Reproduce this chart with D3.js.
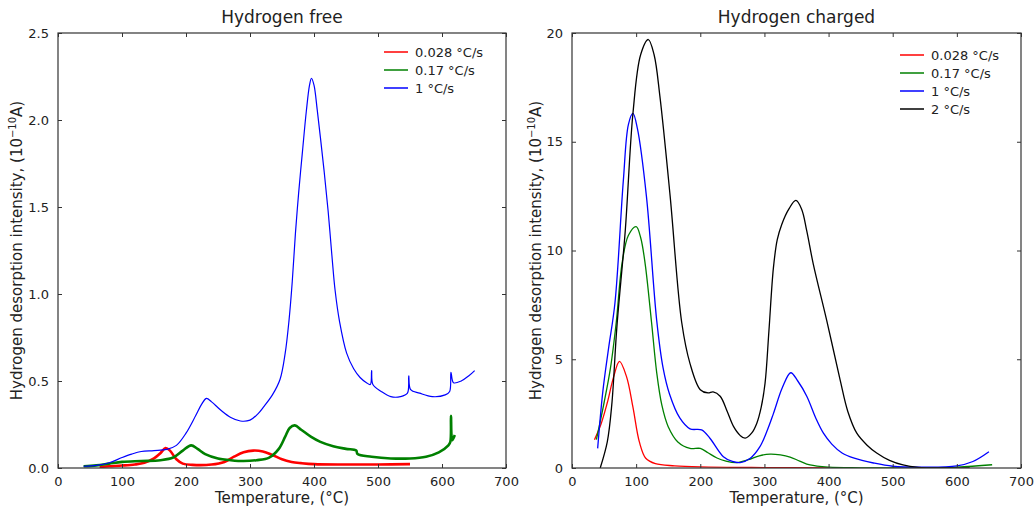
<!DOCTYPE html>
<html>
<head>
<meta charset="utf-8">
<script src="https://cdn.jsdelivr.net/npm/d3@7"></script>
<style>
  body { margin: 0; background: #fff; }
  svg text { font-family: "DejaVu Sans", sans-serif; fill: #222; }
</style>
</head>
<body>
<div id="chart"></div>
<script>
// rate labels (legend)
const rates = ["0.028 \u00b0C/s", "0.17 \u00b0C/s", "1 \u00b0C/s", "2 \u00b0C/s"];
const colors = ["#ff0000", "#008000", "#0000ff", "#000000"];

// Hydrogen free: [temperature, intensity]
const freeRed = [[65,0.006],[80,0.01],[100,0.014],[120,0.02],[135,0.03],[150,0.055],[160,0.085],[168,0.115],[175,0.1],[185,0.05],[195,0.025],[210,0.018],[240,0.02],[260,0.035],[275,0.065],[290,0.09],[305,0.1],[320,0.095],[335,0.075],[350,0.05],[365,0.035],[380,0.028],[400,0.022],[450,0.02],[500,0.02],[550,0.022]];
const freeGreen = [[40,0.01],[60,0.015],[80,0.025],[100,0.035],[130,0.04],[160,0.045],[180,0.06],[195,0.1],[208,0.13],[218,0.11],[230,0.08],[250,0.055],[270,0.045],[290,0.04],[310,0.045],[330,0.06],[345,0.11],[355,0.18],[362,0.23],[370,0.245],[380,0.22],[395,0.18],[410,0.15],[430,0.125],[450,0.11],[466,0.1],[468,0.08],[490,0.065],[520,0.055],[550,0.055],[575,0.065],[595,0.09],[610,0.13],[613,0.15],[614,0.3],[616,0.16],[620,0.19]];
const freeBlue = [[40,0.01],[60,0.015],[80,0.03],[100,0.06],[115,0.08],[130,0.095],[150,0.1],[170,0.107],[185,0.13],[200,0.2],[215,0.3],[225,0.37],[232,0.4],[240,0.38],[255,0.33],[270,0.29],[285,0.27],[300,0.275],[312,0.31],[321,0.35],[335,0.42],[347,0.51],[355,0.66],[361,0.85],[366,1.07],[371,1.35],[376,1.58],[382,1.82],[388,2.05],[393,2.2],[396,2.24],[400,2.2],[405,2.06],[410,1.9],[416,1.7],[422,1.48],[428,1.22],[433,1.02],[440,0.84],[451,0.66],[462,0.57],[472,0.52],[482,0.49],[488,0.48],[490,0.56],[492,0.48],[505,0.44],[520,0.41],[535,0.41],[546,0.43],[548,0.53],[551,0.45],[565,0.43],[585,0.41],[605,0.42],[612,0.44],[614,0.55],[618,0.49],[630,0.5],[642,0.53],[651,0.56]];

// Hydrogen charged: [temperature, intensity]
const chgRed = [[35,1.3],[45,2.0],[55,3.0],[65,4.2],[74,4.9],[85,4.2],[95,2.8],[105,1.2],[115,0.45],[130,0.2],[160,0.1],[200,0.05],[300,0.02],[400,0.01]];
const chgGreen = [[38,1.3],[50,3.0],[60,4.6],[69,6.7],[78,9.4],[88,10.7],[100,11.1],[107,10.6],[114,9.4],[124,6.7],[132,4.4],[140,2.9],[150,1.9],[165,1.2],[184,0.9],[200,0.9],[212,0.7],[226,0.46],[240,0.32],[257,0.25],[275,0.38],[292,0.56],[309,0.64],[325,0.6],[340,0.5],[355,0.32],[371,0.14],[400,0.04],[450,0.01],[500,0.0],[600,0.04],[655,0.15]];
const chgBlue = [[40,0.9],[48,3.5],[57,5.5],[67,7.6],[80,13.2],[88,15.8],[95,16.3],[102,15.6],[116,12.5],[132,6.8],[142,4.6],[152,3.4],[168,2.3],[184,1.8],[202,1.75],[215,1.37],[236,0.52],[250,0.3],[262,0.25],[278,0.45],[293,0.98],[304,1.7],[314,2.5],[328,3.7],[341,4.38],[352,4.0],[366,3.3],[380,2.3],[392,1.6],[405,1.1],[421,0.69],[440,0.45],[470,0.23],[500,0.08],[550,0.04],[600,0.1],[625,0.3],[650,0.75]];
const chgBlack = [[44,0.0],[55,1.2],[62,2.9],[70,6.5],[83,10.9],[95,16.3],[107,19.0],[119,19.7],[128,19.0],[137,17.1],[153,12.5],[171,6.7],[184,4.8],[200,3.6],[212,3.45],[220,3.5],[231,3.3],[242,2.6],[252,1.9],[262,1.5],[270,1.37],[280,1.6],[288,2.05],[295,2.8],[301,3.9],[307,6.3],[314,9.2],[320,10.5],[327,11.2],[338,11.9],[349,12.3],[358,11.9],[366,10.9],[376,9.4],[397,6.8],[418,4.05],[430,2.6],[444,1.6],[460,1.05],[475,0.69],[495,0.35],[516,0.14],[540,0.03],[580,0.0],[620,0.0]];

const xTicks = [0, 100, 200, 300, 400, 500, 600, 700];
const freeYTicks = [0, 0.5, 1.0, 1.5, 2.0, 2.5];
const chgYTicks = [0, 5, 10, 15, 20];

const W = 1036, H = 510;
const svg = d3.select("#chart").append("svg")
    .attr("width", W)
    .attr("height", H);

function drawPanel(opts) {
    const left = opts.left, right = opts.right, top = 33, bottom = 468;
    const x = d3.scaleLinear().domain([0, 700]).range([left, right]);
    const y = d3.scaleLinear().domain([0, opts.ymax]).range([bottom, top]);
    const g = svg.append("g");

    // clip so curves stay in the frame
    const clipId = "clip-" + opts.id;
    g.append("clipPath").attr("id", clipId)
        .append("rect")
        .attr("x", left).attr("y", top)
        .attr("width", right - left).attr("height", bottom - top);

    const line = d3.line()
        .x(d => x(d[0]))
        .y(d => y(Math.max(0, d[1])))
        .curve(d3.curveCatmullRom.alpha(0.5));

    const curves = g.append("g").attr("clip-path", `url(#${clipId})`);
    opts.series.forEach(s => {
        curves.append("path")
            .datum(s.data)
            .attr("fill", "none")
            .attr("stroke", s.color)
            .attr("stroke-width", s.width)
            .attr("stroke-linejoin", "round")
            .attr("d", line);
    });

    // frame
    g.append("rect")
        .attr("x", left).attr("y", top)
        .attr("width", right - left).attr("height", bottom - top)
        .attr("fill", "none")
        .attr("stroke", "#333")
        .attr("stroke-width", 1.2);

    // inward ticks: bottom/top and left/right
    const bAxis = d3.axisBottom(x).tickValues(xTicks).tickSize(-4).tickPadding(9)
        .tickFormat(d3.format("d"));
    const tAxis = d3.axisTop(x).tickValues(xTicks).tickSize(-4).tickFormat("");
    const lAxis = d3.axisLeft(y).tickValues(opts.yTicks).tickSize(-4).tickPadding(9)
        .tickFormat(opts.yFormat);
    const rAxis = d3.axisRight(y).tickValues(opts.yTicks).tickSize(-4).tickFormat("");

    [[bAxis, `translate(0,${bottom})`], [tAxis, `translate(0,${top})`],
     [lAxis, `translate(${left},0)`], [rAxis, `translate(${right},0)`]].forEach(([ax, tr]) => {
        const a = g.append("g").attr("transform", tr).call(ax);
        a.select(".domain").remove();
        a.selectAll(".tick line").attr("stroke", "#333");
        a.selectAll("text")
            .style("font-family", "DejaVu Sans, sans-serif")
            .style("font-size", "13px")
            .attr("fill", "#222");
    });

    // title
    g.append("text")
        .attr("x", (left + right) / 2).attr("y", 23)
        .attr("text-anchor", "middle")
        .style("font-size", "17px")
        .text(opts.title);

    // x label
    g.append("text")
        .attr("x", (left + right) / 2).attr("y", 503)
        .attr("text-anchor", "middle")
        .style("font-size", "15px")
        .text("Temperature, (\u00b0C)");

    // y label
    const yl = g.append("text")
        .attr("transform", `translate(${opts.ylabelX},${(top + bottom) / 2}) rotate(-90)`)
        .attr("text-anchor", "middle")
        .style("font-size", "15px");
    yl.append("tspan").text("Hydrogen desorption intensity, (10");
    yl.append("tspan").attr("dy", -6).style("font-size", "10px").text("\u221210");
    yl.append("tspan").attr("dy", 6).text("A)");

    // legend
    const lg = g.append("g");
    opts.series.forEach((s, i) => {
        const ly = opts.legendY + i * 18;
        lg.append("line")
            .attr("x1", opts.legendX).attr("x2", opts.legendX + 24)
            .attr("y1", ly).attr("y2", ly)
            .attr("stroke", s.color).attr("stroke-width", 1.5);
        lg.append("text")
            .attr("x", opts.legendX + 31).attr("y", ly + 5)
            .style("font-size", "13px")
            .text(rates[i]);
    });
}

drawPanel({
    id: "free", left: 58, right: 506, ymax: 2.5,
    yTicks: freeYTicks, yFormat: d3.format(".1f"),
    title: "Hydrogen free", ylabelX: 22,
    legendX: 384, legendY: 52,
    series: [
        { data: freeRed, color: colors[0], width: 2.6 },
        { data: freeGreen, color: colors[1], width: 2.6 },
        { data: freeBlue, color: colors[2], width: 1.2 }
    ]
});

drawPanel({
    id: "chg", left: 572, right: 1021, ymax: 20,
    yTicks: chgYTicks, yFormat: d3.format("d"),
    title: "Hydrogen charged", ylabelX: 541,
    legendX: 900, legendY: 55,
    series: [
        { data: chgRed, color: colors[0], width: 1.3 },
        { data: chgGreen, color: colors[1], width: 1.3 },
        { data: chgBlue, color: colors[2], width: 1.3 },
        { data: chgBlack, color: colors[3], width: 1.3 }
    ]
});
</script>
</body>
</html>
